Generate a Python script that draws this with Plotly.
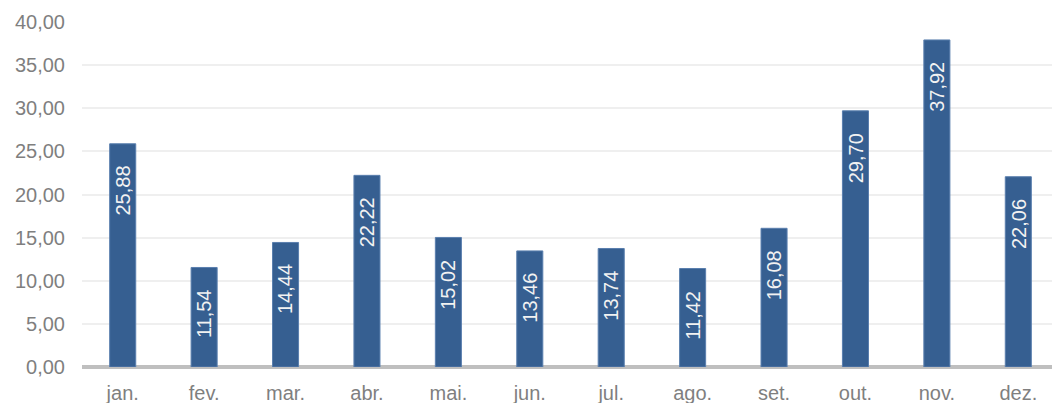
import plotly.graph_objects as go

months = ["jan.", "fev.", "mar.", "abr.", "mai.", "jun.", "jul.", "ago.", "set.", "out.", "nov.", "dez."]
values = [25.88, 11.54, 14.44, 22.22, 15.02, 13.46, 13.74, 11.42, 16.08, 29.70, 37.92, 22.06]
y_ticks = [0, 5, 10, 15, 20, 25, 30, 35, 40]

FONT = "Liberation Sans, Arial, sans-serif"
GRAY = "#7f7f7f"

fig = go.Figure()
fig.add_trace(go.Bar(
    x=months, y=values,
    marker=dict(color="#365F91", line=dict(color="#5a7fae", width=1)),
    hoverinfo="skip",
))

for m, v in zip(months, values):
    fig.add_annotation(
        x=m, y=v, xref="x", yref="y",
        text=f"{v:.2f}".replace(".", ","),
        textangle=-90, showarrow=False,
        yanchor="top", xanchor="center", yshift=-20,
        font=dict(family=FONT, size=20, color="#f2f2f2"),
    )

# page body has an 8px default margin, so the figure is sized to fit the window
fig.update_layout(
    width=1052, height=395,
    margin=dict(l=74, r=1, t=14, b=36, autoexpand=False),
    paper_bgcolor="white", plot_bgcolor="white",
    separators=",.",
    bargap=0.68,
    showlegend=False,
    font=dict(family=FONT, size=20, color=GRAY),
)
fig.update_yaxes(
    range=[0, 40], tickvals=y_ticks, tickformat=".2f",
    showgrid=True, gridcolor="#efefef", gridwidth=2,
    zeroline=True, zerolinecolor="#bfbfbf", zerolinewidth=4,
    showline=False, ticklabelstandoff=16, automargin=False,
    tickfont=dict(family=FONT, size=20, color=GRAY),
)
fig.update_xaxes(
    showgrid=False, showline=False, ticklabelstandoff=12, automargin=False,
    tickfont=dict(family=FONT, size=20, color=GRAY),
)

fig.write_html("out.html")
